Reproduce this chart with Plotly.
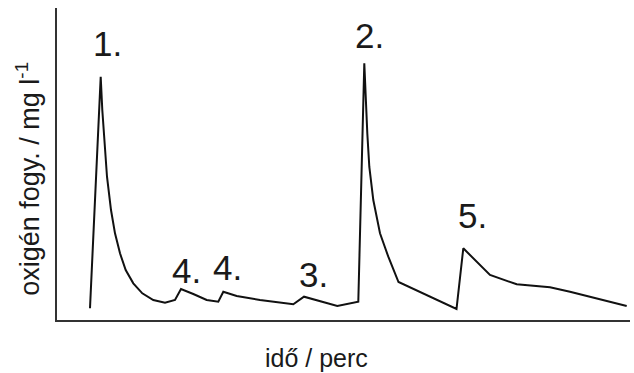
import plotly.graph_objects as go

# time (arbitrary units) and oxygen consumption (arbitrary units)
ido = [33, 43.7, 45.3, 47.3, 50, 54, 58, 63, 68.7, 76.3, 85.3, 96.3, 108, 118,
       124, 136.3, 149.7, 161.3, 166.3, 179.7, 203, 236.3, 247, 280.3, 301.3,
       307.3, 308.7, 310.3, 312.3, 316.3, 323, 331.3, 341.5, 399.5,
       406.3, 433, 459.7, 493, 513, 569.7]
oxigen = [11.7, 243.3, 210, 176.7, 143.3, 110, 86.7, 66.7, 50, 36.7, 26.7, 20, 17.3, 20,
          31, 26, 20, 18.3, 28.3, 24, 20, 15.7, 23.3, 14, 18.3,
          256.7, 220, 186.7, 153.3, 120, 86.7, 63.3, 38, 11,
          71.7, 45, 35.7, 32.7, 28.3, 14]

label_text = ["1.", "4.", "4.", "3.", "2.", "5."]
label_x = [50, 129, 170, 256, 312, 415]
label_y = [277, 50, 53, 46, 285, 105]

FONT = "Liberation Sans, Arial, sans-serif"

fig = go.Figure()
fig.add_trace(go.Scatter(x=ido, y=oxigen, mode="lines",
                         line=dict(color="#111111", width=2),
                         hoverinfo="skip", showlegend=False))

annotations = []
for t, x, y in zip(label_text, label_x, label_y):
    annotations.append(dict(x=x, y=y, xref="x", yref="y", text=t,
                            showarrow=False, xanchor="center", yanchor="middle",
                            font=dict(family=FONT, size=35, color="#1a1a1a")))

annotations.append(dict(x=0.453, y=-0.122, xref="paper", yref="paper",
                        text="idő / perc", showarrow=False,
                        xanchor="center", yanchor="middle",
                        font=dict(family=FONT, size=25, color="#1a1a1a")))
annotations.append(dict(x=-0.051, y=0.452, xref="paper", yref="paper",
                        text="oxigén fogy. / mg l<sup>-1</sup>", showarrow=False,
                        textangle=-90, xanchor="center", yanchor="middle",
                        font=dict(family=FONT, size=27, color="#1a1a1a")))

fig.update_layout(
    width=634, height=373,
    margin=dict(l=57, r=4, t=8, b=53),
    paper_bgcolor="white", plot_bgcolor="white",
    annotations=annotations,
    xaxis=dict(range=[0, 573], showline=True, linecolor="#333333", linewidth=2,
               showticklabels=False, ticks="", showgrid=False, zeroline=False),
    yaxis=dict(range=[0, 312], showline=True, linecolor="#333333", linewidth=2,
               showticklabels=False, ticks="", showgrid=False, zeroline=False),
)

fig.write_html("out.html")
